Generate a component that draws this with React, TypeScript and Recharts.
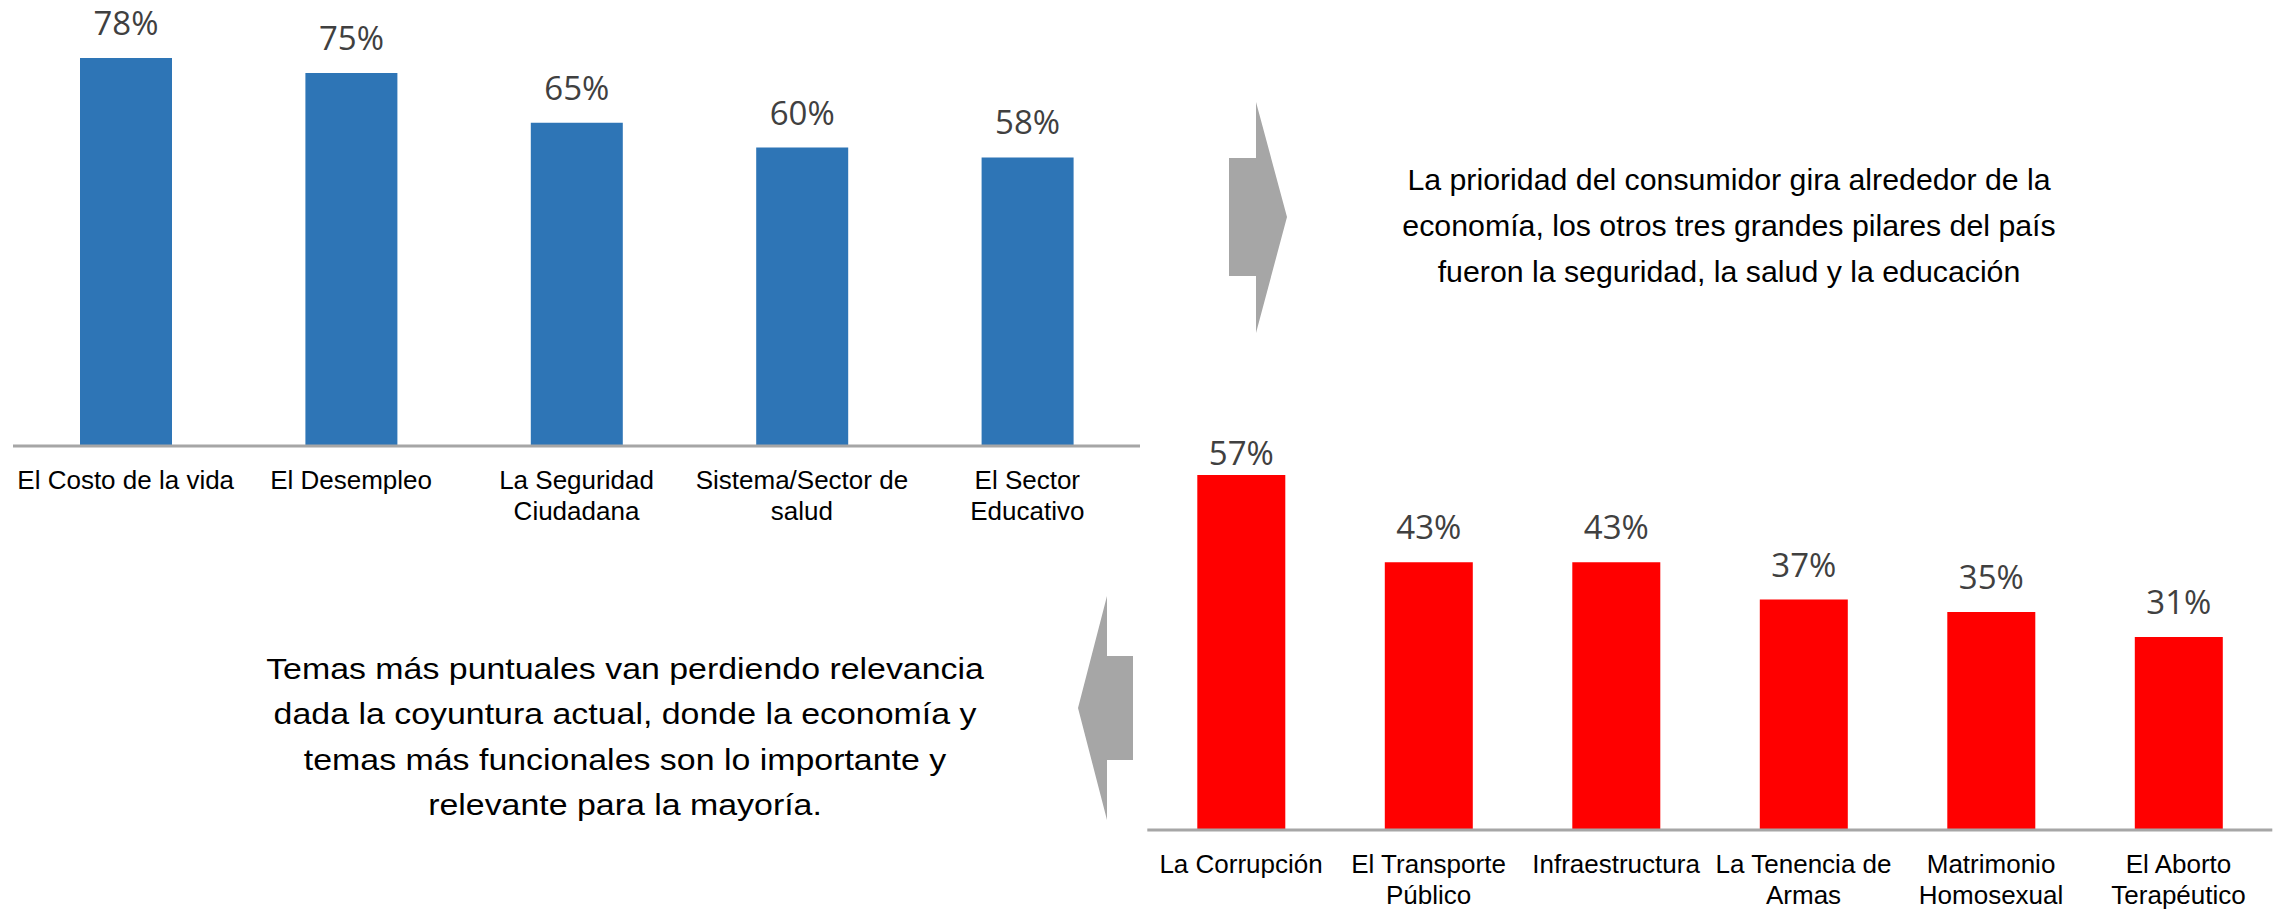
import React from "react";
import { BarChart, Bar, XAxis, YAxis, LabelList } from "recharts";

// ---- Data ----
const topCategories = [
  "El Costo de la vida",
  "El Desempleo",
  "La Seguridad\nCiudadana",
  "Sistema/Sector de\nsalud",
  "El Sector\nEducativo",
];
const topValues = [78, 75, 65, 60, 58];

const bottomCategories = [
  "La Corrupción",
  "El Transporte\nPúblico",
  "Infraestructura",
  "La Tenencia de\nArmas",
  "Matrimonio\nHomosexual",
  "El Aborto\nTerapéutico",
];
const bottomValues = [57, 43, 43, 37, 35, 31];

const topText = [
  "La prioridad del consumidor gira alrededor de la",
  "economía, los otros tres grandes pilares del país",
  "fueron la seguridad, la salud y la educación",
];
const bottomText = [
  "Temas más puntuales van perdiendo relevancia",
  "dada la coyuntura actual, donde la economía y",
  "temas más funcionales son lo importante y",
  "relevante para la mayoría.",
];

const topData = topCategories.map((name, i) => ({ name, value: topValues[i] }));
const bottomData = bottomCategories.map((name, i) => ({ name, value: bottomValues[i] }));

// ---- Styles ----
const BLUE = "#2E75B6";
const RED = "#FF0000";
const AXIS_GRAY = "#A6A6A6";
const ARROW_GRAY = "#A6A6A6";
const LABEL_GRAY = "#404040";
const SANS = "'Liberation Sans', Arial, sans-serif";
const LABEL_FONT = "'Open Sans', sans-serif";

const MultiLineTick = (props: any) => {
  const { x, y, payload } = props;
  const lines = String(payload.value).split("\n");
  return (
    <g>
      {lines.map((l, i) => (
        <text
          key={i}
          x={x}
          y={y + 43 + i * 31}
          textAnchor="middle"
          fontFamily={SANS}
          fontSize={26}
          fill="#000000"
        >
          {l}
        </text>
      ))}
    </g>
  );
};

const makeValueLabel = (minBaseline: number | null) => (props: any) => {
  const { x, y, width, value } = props;
  let by = Number(y) - 23;
  if (minBaseline !== null) by = Math.max(by, minBaseline);
  return (
    <text
      x={Number(x) + Number(width) / 2}
      y={by}
      textAnchor="middle"
      fontFamily={LABEL_FONT}
      fontSize={33}
      fill={LABEL_GRAY}
    >
      {value}%
    </text>
  );
};

const TOP_MARGIN = { top: 48, right: 20, bottom: 0, left: 13 };
const BOTTOM_MARGIN = { top: 56.3, right: 7.7, bottom: 0, left: 47.3 };

export default function App() {
  return (
    <div
      style={{
        position: "absolute",
        left: 0,
        top: 0,
        width: 2280,
        height: 910,
        background: "#ffffff",
        overflow: "hidden",
      }}
    >
      <div style={{ position: "absolute", left: 0, top: 0 }}>
        <BarChart width={1160} height={526} data={topData} margin={TOP_MARGIN}>
          <YAxis hide type="number" domain={[0, 80]} />
          <XAxis
            dataKey="name"
            interval={0}
            height={80}
            tickLine={false}
            tickSize={0}
            tickMargin={0}
            axisLine={{ stroke: AXIS_GRAY, strokeWidth: 3 }}
            tick={<MultiLineTick />}
          />
          <Bar dataKey="value" fill={BLUE} barSize={92} isAnimationActive={false}>
            <LabelList dataKey="value" content={makeValueLabel(null)} />
          </Bar>
        </BarChart>
      </div>

      <div style={{ position: "absolute", left: 1100, top: 400 }}>
        <BarChart width={1180} height={510} data={bottomData} margin={BOTTOM_MARGIN}>
          <YAxis hide type="number" domain={[0, 60]} />
          <XAxis
            dataKey="name"
            interval={0}
            height={80}
            tickLine={false}
            tickSize={0}
            tickMargin={0}
            axisLine={{ stroke: AXIS_GRAY, strokeWidth: 3 }}
            tick={<MultiLineTick />}
          />
          <Bar dataKey="value" fill={RED} barSize={88} isAnimationActive={false}>
            <LabelList dataKey="value" content={makeValueLabel(BOTTOM_MARGIN.top + 9)} />
          </Bar>
        </BarChart>
      </div>

      <svg
        width={2280}
        height={910}
        style={{ position: "absolute", left: 0, top: 0, pointerEvents: "none" }}
      >
        <polygon
          points="1229,158 1256,158 1256,102 1287,217 1256,333 1256,276 1229,276"
          fill={ARROW_GRAY}
        />
        <polygon
          points="1133,656 1107,656 1107,596 1078,708 1107,820 1107,760 1133,760"
          fill={ARROW_GRAY}
        />
        <g transform="translate(1729,0) scale(1.01,1)">
          {topText.map((t, i) => (
            <text
              key={"t" + i}
              x={0}
              y={190 + i * 46}
              textAnchor="middle"
              fontFamily={SANS}
              fontSize={30}
              fill="#000000"
            >
              {t}
            </text>
          ))}
        </g>
        <g transform="translate(625,0) scale(1.13,1)">
          {bottomText.map((t, i) => (
            <text
              key={"b" + i}
              x={0}
              y={679 + i * 45.5}
              textAnchor="middle"
              fontFamily={SANS}
              fontSize={30}
              fill="#000000"
            >
              {t}
            </text>
          ))}
        </g>
      </svg>
    </div>
  );
}
